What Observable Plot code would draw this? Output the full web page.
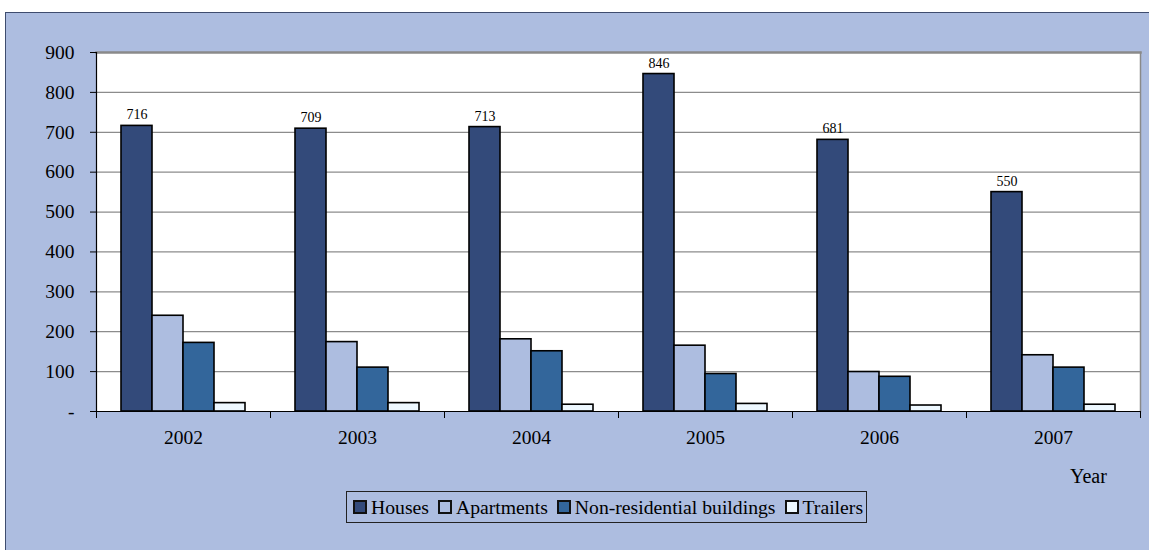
<!DOCTYPE html>
<html>
<head>
<meta charset="utf-8">
<script src="https://cdn.jsdelivr.net/npm/d3@7"></script>
<script src="https://cdn.jsdelivr.net/npm/@observablehq/plot@0.6"></script>
<style>
  html, body { margin: 0; padding: 0; background: #ffffff; width: 1149px; height: 550px; overflow: hidden; font-family: "Liberation Serif", serif; }
  #panel { position: absolute; left: 5px; top: 12px; width: 1160px; height: 560px; background: #adbde0; border: 1px solid #3e4c6e; }
  #chart { position: absolute; left: 0; top: 0; }
  #yearLabel { position: absolute; left: 1070px; top: 464px; font-size: 20px; line-height: 24px; color: #000; font-family: "Liberation Serif", serif; }
  #legend { position: absolute; left: 346px; top: 491px; height: 32px; width: 521px; border: 1px solid #222; display: flex; align-items: center; box-sizing: border-box; padding-left: 6px; font-size: 19.7px; color: #000; white-space: nowrap; font-family: "Liberation Serif", serif; }
  .item { display: flex; align-items: center; margin-right: 9px; }
  .sw { width: 10px; height: 10px; border: 2px solid #111; margin-right: 4px; box-sizing: content-box; }
</style>
</head>
<body>
<div id="panel"></div>
<div id="chart"></div>
<div id="yearLabel">Year</div>
<div id="legend"></div>
<script>
const years = ["2002", "2003", "2004", "2005", "2006", "2007"];
const seriesNames = ["Houses", "Apartments", "Non-residential buildings", "Trailers"];
const houses = [716, 709, 713, 846, 681, 550];
const apartments = [240, 174, 181, 165, 99, 141];
const nonResidential = [172, 110, 151, 94, 87, 110];
const trailers = [21, 21, 17, 19, 15, 17];
const yTicks = [0, 100, 200, 300, 400, 500, 600, 700, 800, 900];
const colors = ["#334a7a", "#adbde0", "#33669b", "#eef8ff"];

const seriesValues = [houses, apartments, nonResidential, trailers];
const rows = [];
years.forEach((yr, i) => {
  seriesNames.forEach((s, j) => rows.push({year: yr, series: s, value: seriesValues[j][i]}));
});
const houseRows = rows.filter(d => d.series === "Houses");

const FONT = "Liberation Serif";
const W = 1149, H = 470, mT = 52, mB = 59, mL = 95, mR = 8;
const innerH = H - mT - mB;

const chart = Plot.plot({
  width: W,
  height: H,
  marginTop: mT,
  marginBottom: mB,
  marginLeft: mL,
  marginRight: mR,
  style: {background: "transparent", fontFamily: FONT, color: "#000", overflow: "visible"},
  fx: {domain: years, padding: 0, label: null, axis: null},
  x: {domain: seriesNames, paddingInner: 0, paddingOuter: 0.72, axis: null},
  y: {domain: [0, 900], label: null, axis: null},
  color: {domain: seriesNames, range: colors},
  marks: [
    Plot.frame({fill: "white", stroke: "none", facet: "super"}),
    Plot.gridY(yTicks.slice(1), {stroke: "#8c8c8c", strokeOpacity: 1, strokeWidth: 1.2}),
    Plot.frame({anchor: "top", facet: "super", stroke: "#8a8a8a", strokeWidth: 2.5}),
    Plot.frame({anchor: "right", facet: "super", stroke: "#8a8a8a", strokeWidth: 1.5}),
    Plot.frame({anchor: "left", facet: "super", stroke: "#000", strokeWidth: 1.2}),
    Plot.frame({anchor: "left", stroke: "#000", strokeWidth: 1, insetTop: innerH, insetBottom: -6}),
    Plot.frame({anchor: "right", stroke: "#000", strokeWidth: 1, insetTop: innerH, insetBottom: -6}),
    Plot.ruleY([0], {stroke: "#000", strokeWidth: 1.2}),
    Plot.barY(rows, {fx: "year", x: "series", y: "value", fill: "series", stroke: "#000", strokeWidth: 1.6}),
    Plot.text(houseRows, {fx: "year", x: "series", y: "value", text: d => String(d.value), dy: -11, fontSize: 14, fontFamily: FONT, fill: "#000"}),
    Plot.axisY({ticks: yTicks, tickFormat: d => d === 0 ? "-" : String(d), tickSize: 6, tickPadding: 16, fontSize: 19.5, fontFamily: FONT, fontVariant: "normal", label: null, stroke: "#000"}),
    Plot.axisFx({anchor: "bottom", tickSize: 0, tickPadding: 19, fontSize: 19.5, fontFamily: FONT, label: null})
  ]
});
document.getElementById("chart").appendChild(chart);

const legend = document.getElementById("legend");
seriesNames.forEach((s, i) => {
  const it = document.createElement("div");
  it.className = "item";
  const sw = document.createElement("span");
  sw.className = "sw";
  sw.style.background = colors[i];
  const lab = document.createElement("span");
  lab.textContent = s;
  it.appendChild(sw);
  it.appendChild(lab);
  legend.appendChild(it);
});
</script>
</body>
</html>
